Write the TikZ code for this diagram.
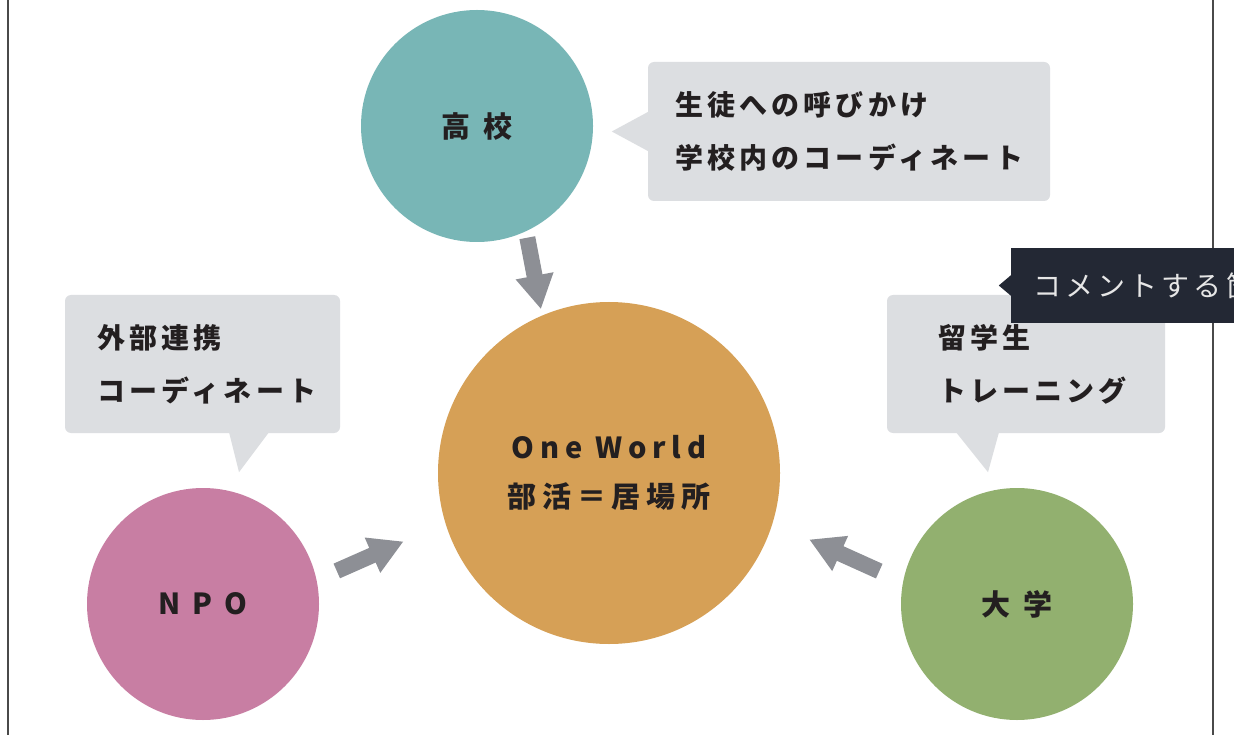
\documentclass[tikz,border=0pt]{standalone}
\usepackage{fontspec}
\setmainfont{Noto Sans CJK JP}
\newfontfamily\bubfont{Noto Sans CJK JP}[LetterSpace=15]
\newfontfamily\circfont{Noto Sans CJK JP}[LetterSpace=42]
\newfontfamily\owfont{Noto Sans CJK JP}[LetterSpace=20]
\newfontfamily\tipfont{Noto Sans CJK JP}[LetterSpace=15]
\usetikzlibrary{arrows.meta,calc}
\definecolor{cteal}{HTML}{78B6B6}
\definecolor{corange}{HTML}{D6A056}
\definecolor{cpink}{HTML}{C87EA3}
\definecolor{cgreen}{HTML}{92B06F}
\definecolor{cbub}{HTML}{DCDEE1}
\definecolor{carrow}{HTML}{8D8F95}
\definecolor{ctext}{HTML}{231F20}
\definecolor{ctip}{HTML}{232834}
\definecolor{ctiptext}{HTML}{E6E6E6}
\definecolor{cborder}{HTML}{4A4A4A}
\begin{document}
\begin{tikzpicture}[x=1pt,y=-1pt,
  circ/.style={circle,inner sep=0pt,minimum size=#1,text=ctext,align=center},
  circlabel/.style={font=\circfont\bfseries\fontsize{29pt}{34pt}\selectfont},
  bub/.style={fill=cbub,rounded corners=6pt,inner ysep=0pt,align=left,text=ctext,
    font=\bubfont\bfseries\fontsize{28pt}{53pt}\selectfont},
  bigarrow/.style={draw=carrow,line width=16pt,-{Triangle[width=36pt,length=34pt]}},
  frameline/.style={draw=cborder,line width=2pt}
]
\useasboundingbox (0,0) rectangle (1234,735);
\fill[white] (0,0) rectangle (1234,735);
\draw[frameline] (8,0) -- (8,735);
\draw[frameline] (1213,0) -- (1213,735);

% circles
\node[circ=232pt,fill=cteal,circlabel] (kk) at (477,126) {高校};
\node[circ=342pt,fill=corange,font=\owfont\bfseries\fontsize{29pt}{49pt}\selectfont] (ow) at (609,473) {One World\\部活＝居場所};
\node[circ=232pt,fill=cpink,circlabel] (npo) at (203,604) {NPO};
\node[circ=232pt,fill=cgreen,circlabel] (dg) at (1017,604) {大学};

% arrows
\draw[bigarrow,shorten <=6.5pt,shorten >=6.3pt] (kk.-65.4) -- (ow.113.4);
\draw[bigarrow,shorten <=22pt,shorten >=45.6pt] (npo.12.6) -- (ow.-163);
\draw[bigarrow,shorten <=26pt,shorten >=40pt] (dg.169.5) -- (ow.-17.1);

% bubbles
\node[bub,minimum width=402pt,minimum height=139pt,inner xsep=27pt,text width=348pt] (b1) at (849,131.5) {生徒への呼びかけ\\学校内のコーディネート};
\fill[cbub] ($(b1.west)+(1,-20)$) -- ($(b1.west)+(-36,0)$) -- ($(b1.west)+(1,20)$) -- cycle;

\node[bub,minimum width=275pt,minimum height=138pt,inner xsep=32pt,text width=211pt] (b2) at (202.5,364) {外部連携\\コーディネート};
\fill[cbub] ($(b2.south)+(26.5,-1)$) -- ($(b2.south)+(36.5,39)$) -- ($(b2.south)+(66.5,-1)$) -- cycle;

\node[bub,minimum width=278pt,minimum height=138pt,inner xsep=51pt,text width=176pt] (b3) at (1026,364) {留学生\\トレーニング};
\fill[cbub] ($(b3.south)+(-70,-1)$) -- ($(b3.south)+(-38,39)$) -- ($(b3.south)+(-27,-1)$) -- cycle;

% tooltip
\node[fill=ctip,minimum width=289pt,minimum height=75pt,inner xsep=22pt,inner ysep=0pt,text width=245pt,align=left,text=ctiptext,font=\tipfont\fontsize{28pt}{34pt}\selectfont] (tt) at (1155.5,285.5) {コメントする箇};
\fill[ctip] ($(tt.west)+(1,-11)$) -- ($(tt.west)+(-12,0)$) -- ($(tt.west)+(1,11)$) -- cycle;
\end{tikzpicture}
\end{document}
